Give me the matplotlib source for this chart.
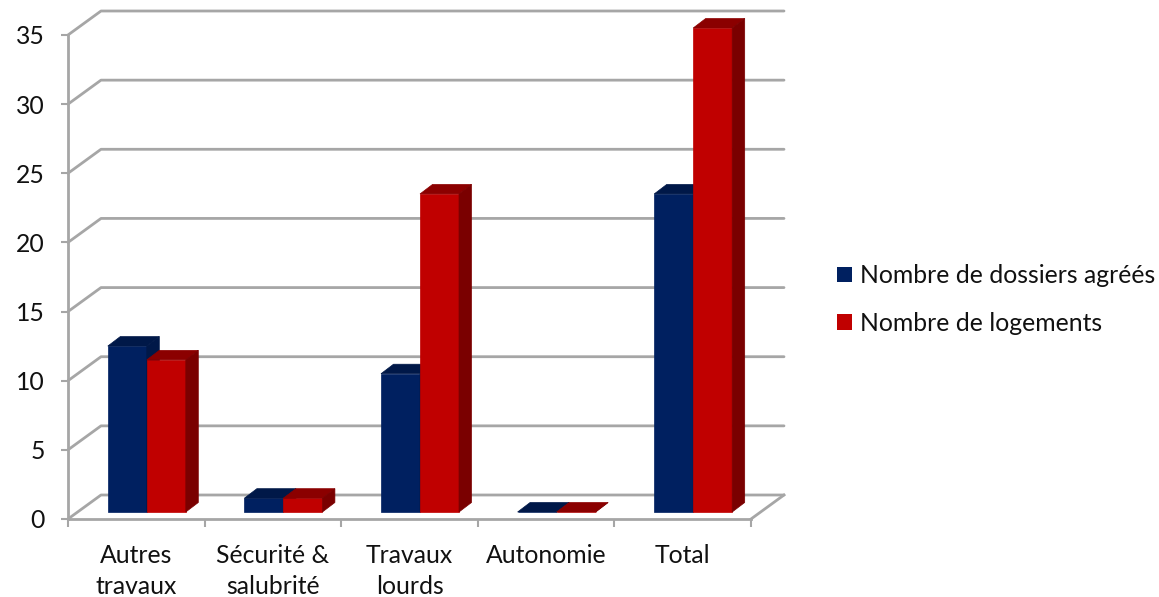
import matplotlib
matplotlib.use('Agg')
import matplotlib.pyplot as plt
from matplotlib.patches import Polygon, Patch

categories = ['Autres\ntravaux', 'Sécurité &\nsalubrité', 'Travaux\nlourds', 'Autonomie', 'Total']
dossiers = [12, 1, 10, 0, 23]
logements = [11, 1, 23, 0, 35]
y_ticks = [0, 5, 10, 15, 20, 25, 30, 35]

W, H = 1159, 597
GRID = '#a6a6a6'
plt.rcParams['font.family'] = ['Lato', 'DejaVu Sans']

fig = plt.figure(figsize=(W / 100, H / 100), dpi=100)
# axes box is the front plane of the fake 3d chart
ax = fig.add_axes([68 / W, 1 - 519 / H, (751 - 68) / W, (519 - 35) / H])
ax.set_xlim(0, 5)
ax.set_ylim(0, 35)

# pixel to data scale
px = 5 / (751 - 68)
py = 35 / (519 - 35)


# Back wall and floor lines
def drawWalls():
    dx = 33 * px
    dy = 24 * py
    for v in y_ticks:
        ax.plot([0, dx, 5 + dx], [v, v + dy, v + dy], color=GRID, lw=2, clip_on=False,
                zorder=1, solid_capstyle='round')
    ax.plot([5, 5 + dx], [0, dy], color=GRID, lw=2, clip_on=False, zorder=1)


# One bar made of front, top and side faces
def drawBar(x, value, front, top, side, z):
    w = 39 * px
    base = 7 * py
    dx = 12.5 * px
    dy = 9.5 * py
    yb = base
    yt = base + value
    faces = [
        ([(x, yb), (x + w, yb), (x + w, yt), (x, yt)], front),
        ([(x, yt), (x + w, yt), (x + w + dx, yt + dy), (x + dx, yt + dy)], top),
        ([(x + w, yb), (x + w + dx, yb + dy), (x + w + dx, yt + dy), (x + w, yt)], side),
    ]
    for pts, color in faces:
        ax.add_patch(Polygon(pts, closed=True, facecolor=color, edgecolor=color, lw=0.5,
                             clip_on=False, zorder=z))


drawWalls()
for i in range(len(categories)):
    left = i + 0.5 + 10.5 * px - 39 * px
    drawBar(left, dossiers[i], '#002060', '#001848', '#001848', 3)
    drawBar(left + 39 * px, logements[i], '#c00000', '#8b0000', '#7a0000', 4)

# Axes
for name in ['top', 'right']:
    ax.spines[name].set_visible(False)
for name in ['left', 'bottom']:
    ax.spines[name].set_color(GRID)
    ax.spines[name].set_linewidth(2)
    ax.spines[name].set_zorder(2)

ax.set_yticks(y_ticks)
ax.tick_params(axis='y', length=5, width=1.5, color=GRID, labelsize=17.8, labelcolor='#111111', pad=11.5)
ax.set_xticks(range(6))
ax.set_xticklabels([])
ax.tick_params(axis='x', which='major', length=6, width=1.5, color=GRID)
ax.set_xticks([i + 0.5 for i in range(5)], minor=True)
ax.set_xticklabels(categories, minor=True, fontsize=17.8, color='#111111', linespacing=1.42)
ax.tick_params(axis='x', which='minor', length=0, pad=17.7)

handles = [Patch(facecolor='#002060', label='Nombre de dossiers agréés'),
           Patch(facecolor='#c00000', label='Nombre de logements')]
fig.legend(handles=handles, loc='center left', bbox_to_anchor=(815 / W, 1 - 299.5 / H), frameon=False,
           fontsize=17.8, labelcolor='#111111', handlelength=0.6, handleheight=0.6, handletextpad=0.3,
           labelspacing=1.0)

fig.savefig('out.png', dpi=100)
